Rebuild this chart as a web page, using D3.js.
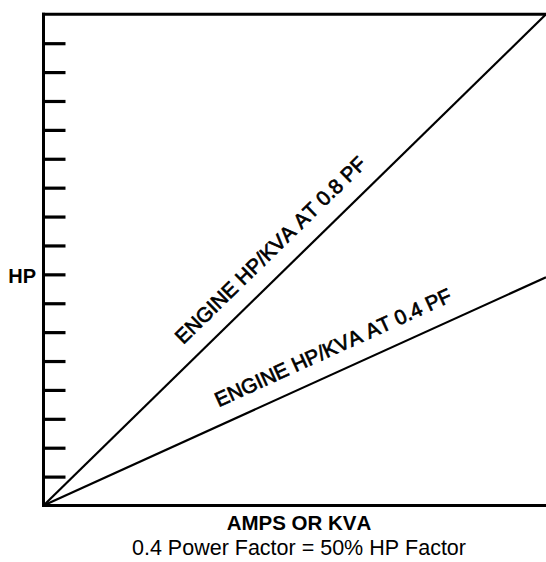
<!DOCTYPE html>
<html>
<head>
<meta charset="utf-8">
<script src="https://cdn.jsdelivr.net/npm/d3@7"></script>
<style>
  html, body { margin: 0; padding: 0; background: #fff; }
  svg { display: block; }
  text { font-family: "Liberation Sans", Arial, Helvetica, sans-serif; fill: #000; font-kerning: none; }
</style>
</head>
<body>
<script>
// ---- data ----
const kva = [0, 100];            // x: AMPS OR KVA (relative)
const hp08 = [0, 17];            // HP at 0.8 PF
const hp04 = [0, 7.9];           // HP at 0.4 PF
const yTicks = [1, 2, 3, 4, 5, 6, 7, 8, 9, 10, 11, 12, 13, 14, 15, 16];
const series = [
  { label: "ENGINE HP/KVA AT 0.8 PF", values: hp08, pos: 0.485 },
  { label: "ENGINE HP/KVA AT 0.4 PF", values: hp04, pos: 0.596 }
];
const xTitle = "AMPS OR KVA";
const yTitle = "HP";
const note = "0.4 Power Factor = 50% HP Factor";

// ---- layout ----
const W = 546, H = 562;
const svg = d3.select("body").append("svg").attr("width", W).attr("height", H);
svg.append("rect").attr("width", W).attr("height", H).attr("fill", "#fff");

const x = d3.scaleLinear().domain([0, 100]).range([43.5, 546]);
const y = d3.scaleLinear().domain([0, 17]).range([505.5, 14.3]);

// ticks (inside, pointing right)
const yAxis = d3.axisRight(y).tickValues(yTicks).tickSize(22).tickFormat("");
const gy = svg.append("g").attr("transform", `translate(${x(0)},0)`).call(yAxis);
gy.select(".domain").remove();
gy.selectAll(".tick line").attr("stroke", "#000").attr("stroke-width", 3.2);

// frame: left, top, bottom
const frame = svg.append("g").attr("stroke", "#000").attr("stroke-width", 3).attr("fill", "none");
frame.append("line").attr("x1", x(0)).attr("x2", x(0)).attr("y1", y(17) - 1.5).attr("y2", y(0) + 1.5);
frame.append("line").attr("x1", x(0) - 1.5).attr("x2", x(100)).attr("y1", y(17)).attr("y2", y(17));
frame.append("line").attr("x1", x(0) - 1.5).attr("x2", x(100)).attr("y1", y(0)).attr("y2", y(0));

// series lines + labels
const line = d3.line().x((d, i) => x(kva[i])).y(d => y(d));
series.forEach(s => {
  svg.append("path").datum(s.values).attr("d", line)
    .attr("fill", "none").attr("stroke", "#000").attr("stroke-width", 2.2);
  const x0 = x(kva[0]), y0 = y(s.values[0]);
  const x1 = x(kva[1]), y1 = y(s.values[1]);
  const ang = Math.atan2(y1 - y0, x1 - x0);
  const fx = s.pos * (x1 - x0);
  const t = fx / Math.cos(ang);
  const off = 17;
  const px = x0 + t * Math.cos(ang) + off * Math.sin(ang);
  const py = y0 + t * Math.sin(ang) - off * Math.cos(ang);
  svg.append("text")
    .attr("transform", `translate(${px},${py}) rotate(${ang * 180 / Math.PI})`)
    .attr("text-anchor", "middle")
    .style("font-size", "20.5px")
    .style("stroke", "#000").style("stroke-width", "0.7px")
    .text(s.label);
});

// axis titles
svg.append("text").attr("x", 36).attr("y", 283).attr("text-anchor", "end")
  .style("font-size", "20px").style("font-weight", "bold").text(yTitle);
svg.append("text").attr("x", 299).attr("y", 529.5).attr("text-anchor", "middle")
  .style("font-size", "20.5px").style("font-weight", "bold").text(xTitle);
svg.append("text").attr("x", 299).attr("y", 555).attr("text-anchor", "middle")
  .style("font-size", "21.5px").text(note);
</script>
</body>
</html>
